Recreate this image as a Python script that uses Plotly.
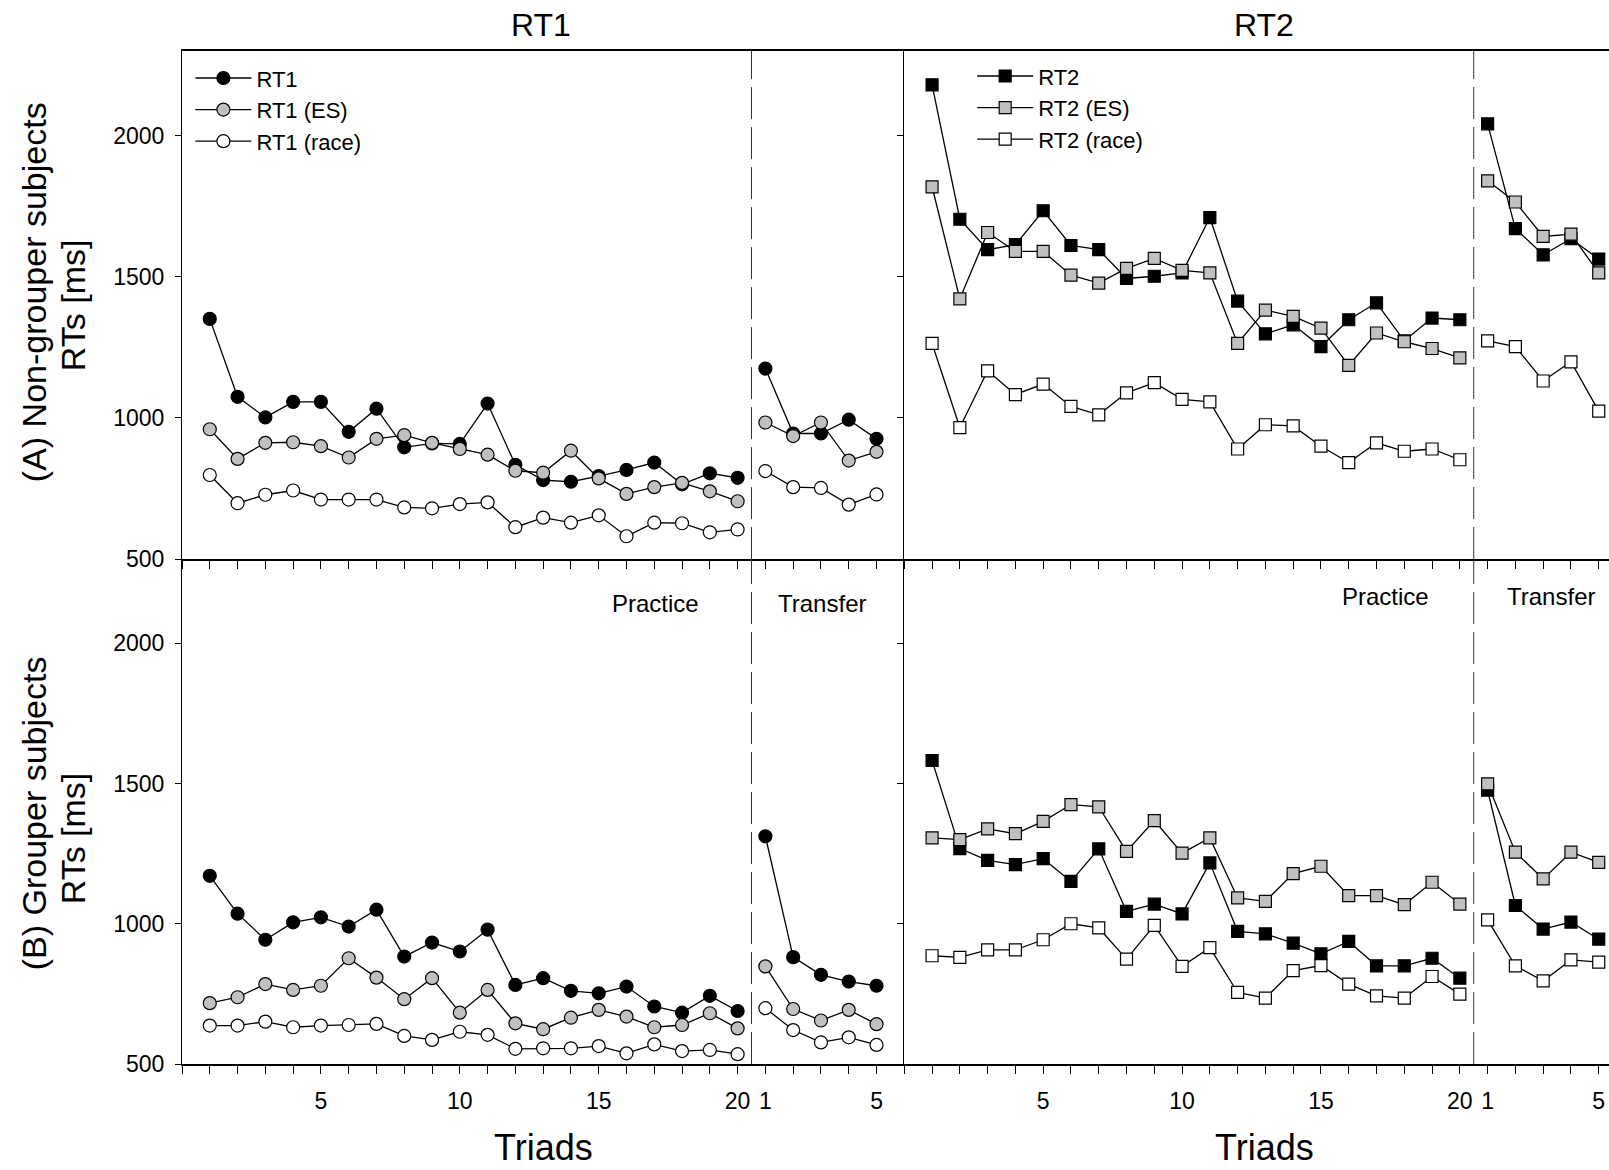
import plotly.graph_objects as go

# ---------------- data ----------------
practice_x = list(range(1, 21))
transfer_x = list(range(21, 26))
tick_vals = list(range(0, 27))
tick_text = ["5" if v == 5 else "10" if v == 10 else "15" if v == 15 else "20" if v == 20
             else "1" if v == 21 else "5" if v == 25 else "" for v in tick_vals]

# (A) Non-grouper subjects
ng_rt1 = [1351, 1075, 1002, 1057, 1057, 951, 1033, 896, 910, 908, 1051, 834, 780, 774, 794, 816, 842, 765, 804, 788]
ng_rt1_tr = [1175, 945, 945, 994, 926]
ng_rt1_es = [960, 855, 912, 914, 900, 860, 926, 939, 912, 890, 870, 813, 806, 884, 786, 731, 755, 770, 740, 705]
ng_rt1_es_tr = [984, 936, 984, 849, 880]
ng_rt1_race = [798, 698, 728, 743, 711, 711, 711, 683, 680, 695, 701, 613, 647, 629, 655, 581, 629, 627, 595, 605]
ng_rt1_race_tr = [812, 755, 752, 693, 729]

ng_rt2 = [2180, 1704, 1596, 1614, 1734, 1611, 1596, 1494, 1502, 1514, 1710, 1414, 1298, 1330, 1253, 1348, 1408, 1273, 1354, 1348]
ng_rt2_tr = [2042, 1671, 1578, 1635, 1563]
ng_rt2_es = [1819, 1422, 1657, 1590, 1590, 1506, 1478, 1530, 1565, 1523, 1514, 1264, 1382, 1360, 1318, 1186, 1301, 1270, 1246, 1213]
ng_rt2_es_tr = [1840, 1765, 1643, 1651, 1514]
ng_rt2_race = [1264, 966, 1167, 1083, 1120, 1041, 1011, 1089, 1125, 1066, 1057, 890, 976, 972, 900, 842, 912, 882, 890, 852]
ng_rt2_race_tr = [1273, 1253, 1131, 1199, 1024]

# (B) Grouper subjects
g_rt1 = [1171, 1036, 943, 1005, 1023, 990, 1050, 883, 933, 901, 979, 782, 806, 761, 752, 776, 705, 683, 743, 689]
g_rt1_tr = [1312, 881, 818, 794, 779]
g_rt1_es = [717, 738, 785, 764, 779, 877, 808, 731, 806, 683, 764, 645, 624, 665, 693, 669, 631, 639, 681, 627]
g_rt1_es_tr = [848, 696, 655, 693, 642]
g_rt1_race = [637, 637, 651, 631, 637, 639, 643, 600, 586, 615, 604, 554, 556, 556, 564, 538, 570, 546, 550, 535]
g_rt1_race_tr = [699, 621, 577, 595, 568]

g_rt2 = [1582, 1268, 1226, 1211, 1232, 1151, 1267, 1044, 1070, 1035, 1217, 973, 964, 931, 893, 937, 850, 850, 877, 806]
g_rt2_tr = [1476, 1065, 981, 1006, 945]
g_rt2_es = [1306, 1300, 1338, 1321, 1365, 1425, 1417, 1258, 1368, 1252, 1306, 1092, 1080, 1179, 1205, 1100, 1100, 1068, 1148, 1070]
g_rt2_es_tr = [1499, 1255, 1160, 1255, 1219]
g_rt2_race = [886, 880, 907, 907, 943, 1000, 985, 874, 994, 848, 915, 755, 735, 833, 851, 785, 743, 735, 812, 749]
g_rt2_race_tr = [1014, 850, 796, 871, 863]

series_names_rt1 = ["RT1", "RT1 (ES)", "RT1 (race)"]
series_names_rt2 = ["RT2", "RT2 (ES)", "RT2 (race)"]

# ---------------- layout geometry ----------------
W, H = 1609, 1170
L, T, B, R = 181.6, 51.3, 105.9, 0
PW, PH = W - L - R, H - T - B
FONT = "Liberation Sans, Arial, Helvetica, sans-serif"


def px2x(px):
    return (px - L) / PW


def py2y(py):
    return 1 - (py - T) / PH


xsplit = px2x(904.1)
ysplit = py2y(559.3)

fills = ["black", "#c0c0c0", "white"]

fig = go.Figure()


def add_series(xa, ya, names, data, symbol, legend, showlegend):
    for (name, prac, tran), fill in zip(zip(names, *zip(*data)), fills):
        fig.add_trace(go.Scatter(
            x=practice_x + [None] + transfer_x,
            y=prac + [None] + tran,
            mode="lines+markers",
            name=name,
            xaxis=xa, yaxis=ya,
            line=dict(color="black", width=1.3),
            marker=dict(symbol=symbol, size=13 if symbol == "circle" else 12,
                        color=fill, line=dict(color="black", width=1.2)),
            legend=legend,
            showlegend=showlegend,
        ))


add_series("x", "y", series_names_rt1,
           [(ng_rt1, ng_rt1_tr), (ng_rt1_es, ng_rt1_es_tr), (ng_rt1_race, ng_rt1_race_tr)],
           "circle", "legend", True)
add_series("x2", "y2", series_names_rt2,
           [(ng_rt2, ng_rt2_tr), (ng_rt2_es, ng_rt2_es_tr), (ng_rt2_race, ng_rt2_race_tr)],
           "square", "legend2", True)
add_series("x3", "y3", series_names_rt1,
           [(g_rt1, g_rt1_tr), (g_rt1_es, g_rt1_es_tr), (g_rt1_race, g_rt1_race_tr)],
           "circle", "legend", False)
add_series("x4", "y4", series_names_rt2,
           [(g_rt2, g_rt2_tr), (g_rt2_es, g_rt2_es_tr), (g_rt2_race, g_rt2_race_tr)],
           "square", "legend2", False)

xcommon = dict(tickmode="array", tickvals=tick_vals, ticktext=tick_text,
               ticks="outside", ticklen=8, tickwidth=1, tickcolor="black",
               showline=True, linecolor="black", linewidth=1.5,
               showgrid=False, zeroline=False,
               tickfont=dict(family=FONT, size=23, color="black"),
               ticklabelstandoff=8)
ycommon = dict(range=[500, 2300], tickmode="array", tickvals=[500, 1000, 1500, 2000],
               ticks="outside", ticklen=6, tickwidth=1, tickcolor="black",
               showline=True, linecolor="black", linewidth=1.2,
               showgrid=False, zeroline=False,
               tickfont=dict(family=FONT, size=23, color="black"),
               ticklabelstandoff=6)

legend_common = dict(xanchor="left", yanchor="top", bgcolor="rgba(0,0,0,0)", borderwidth=0,
                     itemwidth=56, font=dict(family=FONT, size=22, color="black"),
                     tracegroupgap=0)

fig.update_layout(
    width=W, height=H,
    margin=dict(l=L, r=R, t=T, b=B, pad=0),
    paper_bgcolor="white", plot_bgcolor="white",
    font=dict(family=FONT, color="black"),
    xaxis=dict(xcommon, domain=[0, xsplit], range=[0, 26], anchor="y", showticklabels=False, mirror=True),
    xaxis2=dict(xcommon, domain=[xsplit, 1], range=[0, 25.37], anchor="y2", showticklabels=False, mirror=True),
    xaxis3=dict(xcommon, domain=[0, xsplit], range=[0, 26], anchor="y3"),
    xaxis4=dict(xcommon, domain=[xsplit, 1], range=[0, 25.37], anchor="y4"),
    yaxis=dict(ycommon, domain=[ysplit, 1], anchor="x"),
    yaxis2=dict(ycommon, domain=[ysplit, 1], anchor="x2", showticklabels=False),
    yaxis3=dict(ycommon, domain=[0, ysplit], anchor="x3"),
    yaxis4=dict(ycommon, domain=[0, ysplit], anchor="x4", showticklabels=False),
    legend=dict(legend_common, x=px2x(190), y=py2y(57.5)),
    legend2=dict(legend_common, x=px2x(972), y=py2y(55.5)),
    showlegend=True,
)

# vertical dashed separators between practice and transfer
for xa, ya in [("x", "y"), ("x2", "y2"), ("x3", "y3"), ("x4", "y4")]:
    fig.add_shape(type="line", xref=xa, yref=ya + " domain", x0=20.5, x1=20.5, y0=0, y1=1,
                  line=dict(color="#333333", width=1, dash="32px,8px"))

ann = []
# column titles
ann.append(dict(text="RT1", x=px2x(541), y=py2y(25), xref="paper", yref="paper",
                showarrow=False, font=dict(family=FONT, size=32), xanchor="center", yanchor="middle"))
ann.append(dict(text="RT2", x=px2x(1264), y=py2y(25), xref="paper", yref="paper",
                showarrow=False, font=dict(family=FONT, size=32), xanchor="center", yanchor="middle"))
# x titles
for cx in (543, 1264):
    ann.append(dict(text="Triads", x=px2x(cx), y=py2y(1148), xref="paper", yref="paper",
                    showarrow=False, font=dict(family=FONT, size=36), xanchor="center", yanchor="middle"))
# y titles
ytitles = [("(A) Non-grouper subjects", 33, 292), ("RTs [ms]", 72, 305),
           ("(B) Grouper subjects", 33, 813), ("RTs [ms]", 72, 838)]
for txt, cx, cy in ytitles:
    ann.append(dict(text=txt, x=px2x(cx), y=py2y(cy), xref="paper", yref="paper",
                    showarrow=False, textangle=-90, font=dict(family=FONT, size=34),
                    xanchor="center", yanchor="middle"))
# phase labels
for xa, ya, xp, xt, yv in [("x3", "y3", 17.03, 23.04, 2140), ("x4", "y4", 17.33, 23.3, 2168)]:
    ann.append(dict(text="Practice", x=xp, y=yv, xref=xa, yref=ya, showarrow=False,
                    font=dict(family=FONT, size=24), xanchor="center", yanchor="middle"))
    ann.append(dict(text="Transfer", x=xt, y=yv, xref=xa, yref=ya, showarrow=False,
                    font=dict(family=FONT, size=24), xanchor="center", yanchor="middle"))
fig.update_layout(annotations=ann)

fig.write_html("out.html", config={"displayModeBar": False},
               post_script="document.body.style.margin='0';document.body.style.overflow='hidden';")
